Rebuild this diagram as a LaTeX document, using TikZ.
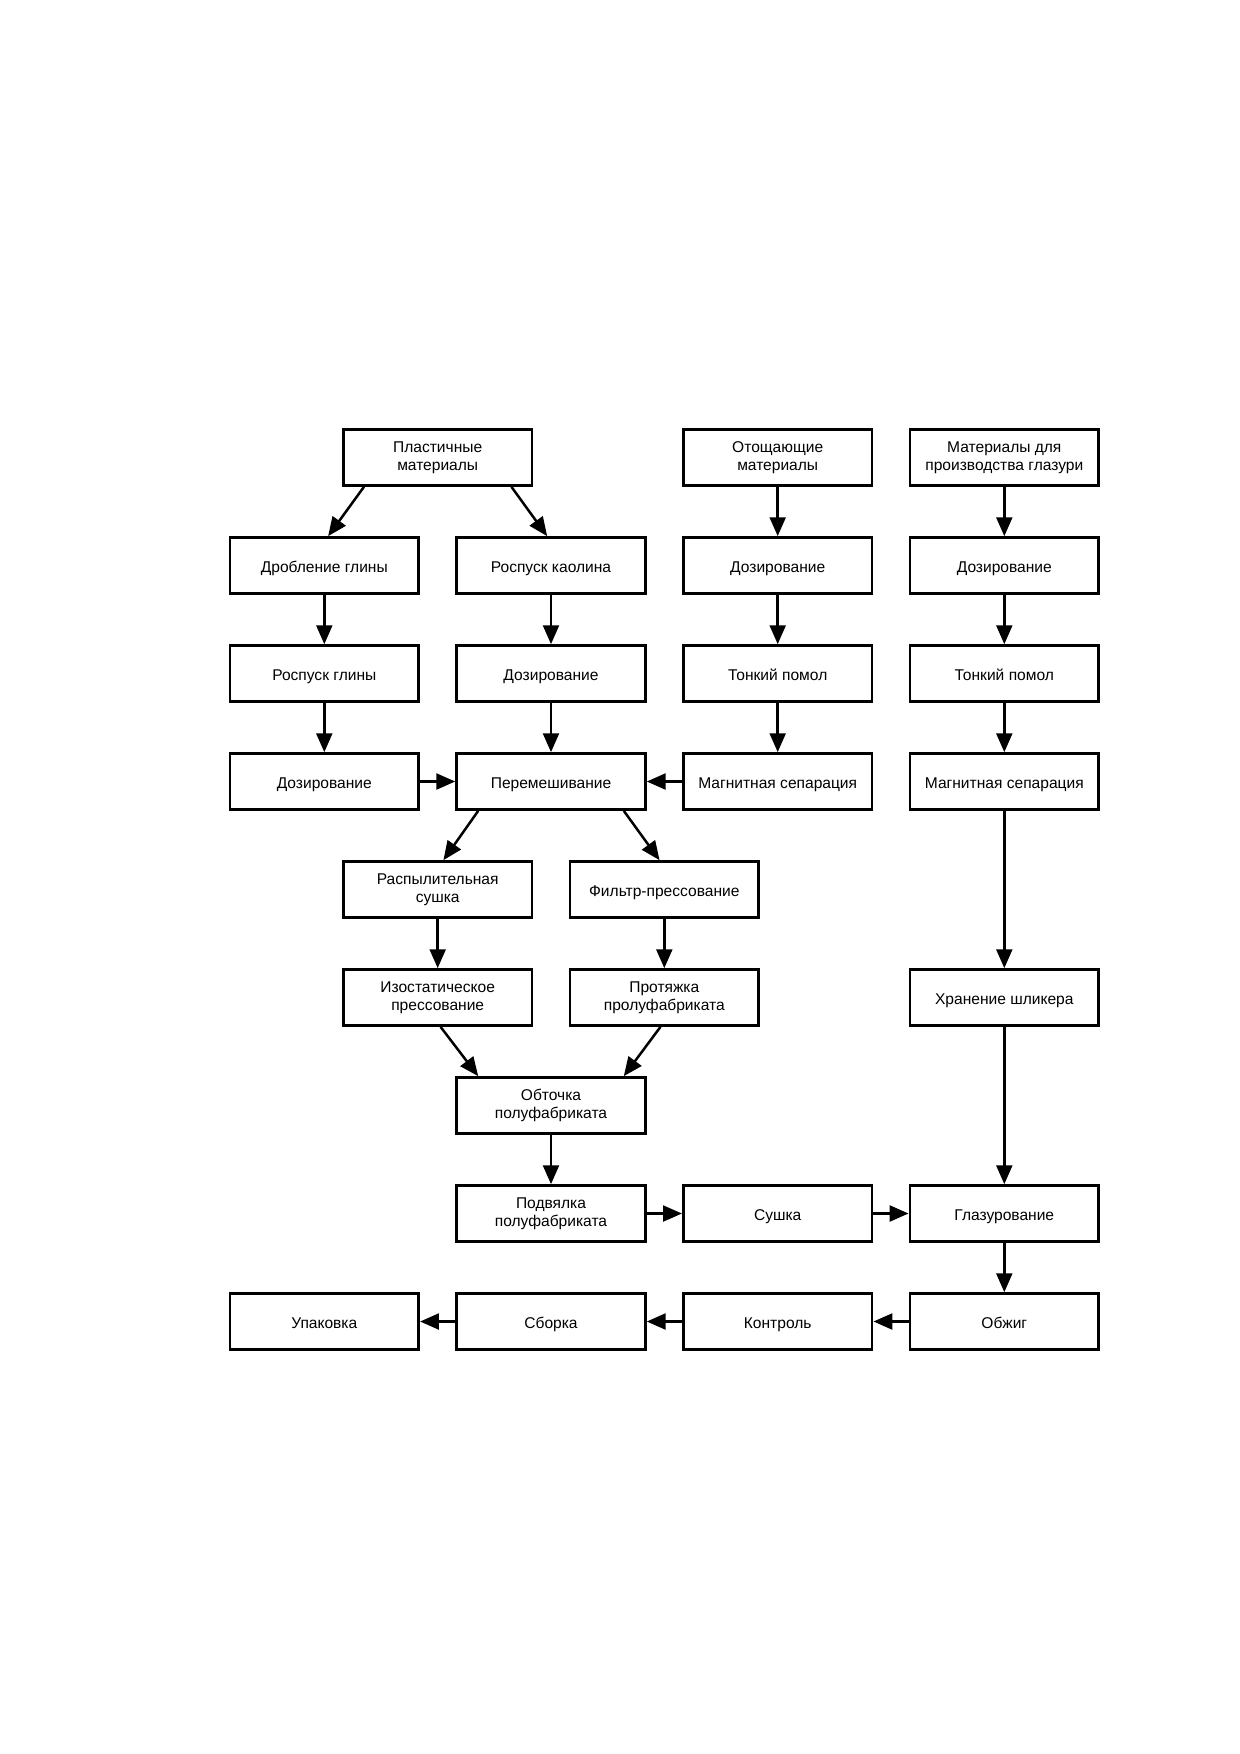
\documentclass[tikz,border=0pt]{standalone}
\usepackage{fontspec}
\setmainfont{Liberation Sans}
\usetikzlibrary{arrows.meta,calc}
\tikzset{
  box2/.style={draw, line width=1.25pt, minimum width=32.0mm, minimum height=9.5mm,
    align=center, inner sep=1pt, font=\fontsize{7.5}{8.7}\selectfont},
  box/.style={box2, text height=1.55ex, text depth=0.3ex},
  arr/.style={line width=1.2pt, -{Triangle[length=3.2mm,width=2.7mm]}}
}
\begin{document}
\begin{tikzpicture}[x=0.16935mm,y=-0.16935mm]
\useasboundingbox (0,0) rectangle (1240,1754);
% columns
\def\ca{324.3}\def\cb{551}\def\cc{777.7}\def\cd{1004.3}\def\cab{437.7}\def\cbc{664.3}
% rows
\def\ra{457.5}\def\rb{565.5}\def\rc{673.5}\def\rd{781.5}\def\re{889.5}
\def\rf{997.5}\def\rg{1105.5}\def\rh{1213.5}\def\ri{1321.5}

\node[box2] (plast) at (\cab,\ra) {Пластичные\\материалы};
\node[box2] (otosh) at (\cc,\ra) {Отощающие\\материалы};
\node[box2] (glmat) at (\cd,\ra) {Материалы для\\производства глазури};

\node[box] (drob) at (\ca,\rb) {Дробление глины};
\node[box] (rkaol) at (\cb,\rb) {Роспуск каолина};
\node[box] (doz3) at (\cc,\rb) {Дозирование};
\node[box] (doz4) at (\cd,\rb) {Дозирование};

\node[box] (rglin) at (\ca,\rc) {Роспуск глины};
\node[box] (doz2) at (\cb,\rc) {Дозирование};
\node[box] (tp3) at (\cc,\rc) {Тонкий помол};
\node[box] (tp4) at (\cd,\rc) {Тонкий помол};

\node[box] (doz1) at (\ca,\rd) {Дозирование};
\node[box] (perem) at (\cb,\rd) {Перемешивание};
\node[box] (ms3) at (\cc,\rd) {Магнитная сепарация};
\node[box] (ms4) at (\cd,\rd) {Магнитная сепарация};

\node[box2] (raspyl) at (\cab,\re) {Распылительная\\сушка};
\node[box] (filtr) at (\cbc,\re) {Фильтр-прессование};

\node[box2] (izo) at (\cab,\rf) {Изостатическое\\прессование};
\node[box2] (prot) at (\cbc,\rf) {Протяжка\\пролуфабриката};
\node[box] (hran) at (\cd,\rf) {Хранение шликера};

\node[box2] (obt) at (\cb,\rg) {Обточка\\полуфабриката};

\node[box2] (podv) at (\cb,\rh) {Подвялка\\полуфабриката};
\node[box] (sush) at (\cc,\rh) {Сушка};
\node[box] (glaz) at (\cd,\rh) {Глазурование};

\node[box] (upak) at (\ca,\ri) {Упаковка};
\node[box] (sbor) at (\cb,\ri) {Сборка};
\node[box] (kontr) at (\cc,\ri) {Контроль};
\node[box] (obzh) at (\cd,\ri) {Обжиг};

% diagonal arrows
\draw[arr] ($(plast.south west)!0.115!(plast.south east)$) -- ($(drob.north west)!0.52!(drob.north east)$);
\draw[arr] ($(plast.south west)!0.885!(plast.south east)$) -- ($(rkaol.north west)!0.48!(rkaol.north east)$);
\draw[arr] ($(perem.south west)!0.12!(perem.south east)$) -- ($(raspyl.north west)!0.53!(raspyl.north east)$);
\draw[arr] ($(perem.south west)!0.88!(perem.south east)$) -- ($(filtr.north west)!0.475!(filtr.north east)$);
\draw[arr] ($(izo.south west)!0.515!(izo.south east)$) -- ($(obt.north west)!0.12!(obt.north east)$);
\draw[arr] ($(prot.south west)!0.48!(prot.south east)$) -- ($(obt.north west)!0.88!(obt.north east)$);

% vertical arrows
\draw[arr] (drob) -- (rglin);
\draw[arr] (rglin) -- (doz1);
\draw[arr] (rkaol) -- (doz2);
\draw[arr] (doz2) -- (perem);
\draw[arr] (otosh) -- (doz3);
\draw[arr] (doz3) -- (tp3);
\draw[arr] (tp3) -- (ms3);
\draw[arr] (glmat) -- (doz4);
\draw[arr] (doz4) -- (tp4);
\draw[arr] (tp4) -- (ms4);
\draw[arr] (ms4) -- (hran);
\draw[arr] (hran) -- (glaz);
\draw[arr] (raspyl) -- (izo);
\draw[arr] (filtr) -- (prot);
\draw[arr] (obt) -- (podv);
\draw[arr] (glaz) -- (obzh);

% horizontal arrows
\draw[arr] (doz1) -- (perem);
\draw[arr] (ms3) -- (perem);
\draw[arr] (podv) -- (sush);
\draw[arr] (sush) -- (glaz);
\draw[arr] (obzh) -- (kontr);
\draw[arr] (kontr) -- (sbor);
\draw[arr] (sbor) -- (upak);
\end{tikzpicture}
\end{document}
